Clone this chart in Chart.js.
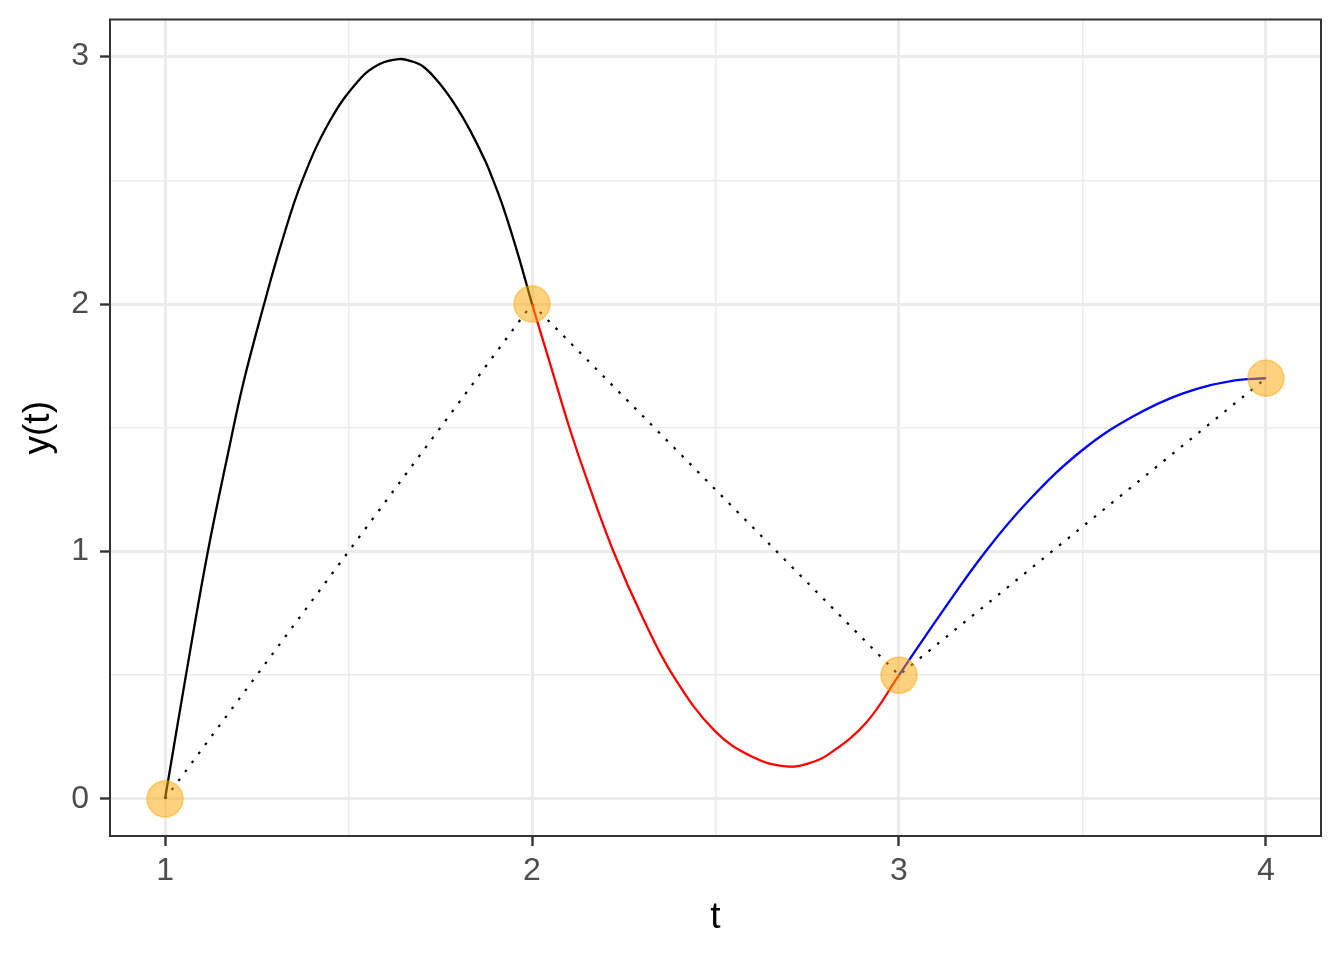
<!DOCTYPE html>
<html>
<head>
<meta charset="utf-8">
<script src="https://cdn.jsdelivr.net/npm/chart.js@4"></script>
<style>
  html, body { margin: 0; padding: 0; background: #ffffff; }
  #wrap { width: 1344px; height: 960px; }
</style>
</head>
<body>
<div id="wrap"><canvas id="splineChart"></canvas></div>
<script>
// knots (orange points, joined by the dotted line)
const knotT = [1, 2, 3, 4];
const knotY = [0, 2, 0.5, 1.7];

// spline pieces
const blackT = [1, 1.057, 1.116, 1.175, 1.214, 1.27, 1.317, 1.374, 1.451, 1.533, 1.585, 1.637, 1.67, 1.705, 1.751, 1.796, 1.832, 1.873, 1.893, 1.923, 1.961, 2];
const blackY = [0, 0.5, 0.995, 1.42, 1.685, 2.0, 2.245, 2.5, 2.745, 2.913, 2.97, 2.99, 2.982, 2.958, 2.886, 2.792, 2.70, 2.577, 2.505, 2.385, 2.205, 2.0];

const redT = [2, 2.048, 2.102, 2.15, 2.222, 2.304, 2.385, 2.498, 2.603, 2.693, 2.757, 2.811, 2.911, 3];
const redY = [2, 1.765, 1.5, 1.289, 1.0, 0.725, 0.497, 0.275, 0.168, 0.131, 0.145, 0.183, 0.309, 0.5];

const blueT = [3, 3.109, 3.236, 3.355, 3.5, 3.636, 3.772, 3.908, 4];
const blueY = [0.5, 0.738, 1.0, 1.208, 1.41, 1.544, 1.638, 1.689, 1.7];

// axis ticks: labelled majors and unlabelled minors
const xMajor = [1, 2, 3, 4];
const xMinor = [1.5, 2.5, 3.5];
const yMajor = [0, 1, 2, 3];
const yMinor = [0.5, 1.5, 2.5];

const pairs = (xs, ys) => xs.map((x, i) => ({ x: x, y: ys[i] }));
const isMajor = (v, majors) => majors.some(m => Math.abs(m - v) < 1e-9);
const FONT = 'Liberation Sans, Arial, sans-serif';

function gridFor(majors) {
    return {
        color: '#EBEBEB',
        lineWidth: ctx => isMajor(ctx.tick.value, majors) ? 3 : 1.5,
        drawTicks: true,
        tickLength: 10,
        tickColor: ctx => isMajor(ctx.tick.value, majors) ? '#333333' : 'rgba(0,0,0,0)',
        tickWidth: 2.4
    };
}

// no extra room for label overhang, the panel box is fixed
function noOverhang(s) {
    s.paddingTop = 0;
    s.paddingBottom = 0;
    s.paddingLeft = 0;
    s.paddingRight = 0;
}

// panel border like theme_bw
const panelBorder = {
    id: 'panelBorder',
    afterDraw(chart) {
        const { ctx, chartArea: a } = chart;
        ctx.save();
        ctx.strokeStyle = '#333333';
        ctx.lineWidth = 2;
        ctx.strokeRect(a.left, a.top, a.right - a.left, a.bottom - a.top);
        ctx.restore();
    }
};

const ctx = document.getElementById('splineChart').getContext('2d');

const lineStyle = color => ({
    borderColor: color,
    borderWidth: 2.3,
    pointRadius: 0,
    fill: false,
    tension: 0.4
});

new Chart(ctx, {
    type: 'line',
    data: {
        datasets: [
            {
                label: 'knots',
                data: pairs(knotT, knotY),
                showLine: false,
                pointRadius: 18,
                pointBackgroundColor: 'rgba(255,165,0,0.5)',
                pointBorderColor: 'rgba(255,165,0,0.5)',
                pointBorderWidth: 1.5
            },
            Object.assign({ label: 'piece 1', data: pairs(blackT, blackY) }, lineStyle('#000000')),
            Object.assign({ label: 'piece 2', data: pairs(redT, redY) }, lineStyle('#FF0000')),
            Object.assign({ label: 'piece 3', data: pairs(blueT, blueY) }, lineStyle('#0000FF')),
            {
                label: 'linear',
                data: pairs(knotT, knotY),
                borderColor: '#000000',
                borderWidth: 2.2,
                borderDash: [2.6, 8.6],
                pointRadius: 0,
                tension: 0,
                fill: false
            }
        ]
    },
    options: {
        responsive: true,
        maintainAspectRatio: false,
        devicePixelRatio: 1,
        animation: false,
        events: [],
        layout: { padding: { top: 18, right: 23, bottom: 0, left: 0 } },
        plugins: {
            legend: { display: false },
            tooltip: { enabled: false }
        },
        scales: {
            x: {
                type: 'linear',
                min: 0.85,
                max: 4.15,
                afterBuildTicks: s => { s.ticks = xMajor.concat(xMinor).sort((a, b) => a - b).map(v => ({ value: v })); },
                afterFit: s => { s.height = 124; noOverhang(s); },
                border: { display: false },
                grid: gridFor(xMajor),
                ticks: {
                    autoSkip: false,
                    maxRotation: 0,
                    padding: 6,
                    color: '#4D4D4D',
                    font: { family: FONT, size: 32 },
                    callback: v => isMajor(v, xMajor) ? String(v) : ''
                },
                title: {
                    display: true,
                    text: 't',
                    color: '#000000',
                    font: { family: FONT, size: 37 },
                    padding: { top: 0, bottom: 20 }
                }
            },
            y: {
                type: 'linear',
                min: -0.15,
                max: 3.15,
                afterBuildTicks: s => { s.ticks = yMajor.concat(yMinor).sort((a, b) => a - b).map(v => ({ value: v })); },
                afterFit: s => { s.width = 110; noOverhang(s); },
                border: { display: false },
                grid: gridFor(yMajor),
                ticks: {
                    autoSkip: false,
                    padding: 11,
                    color: '#4D4D4D',
                    font: { family: FONT, size: 32 },
                    callback: v => isMajor(v, yMajor) ? String(v) : ''
                },
                title: {
                    display: true,
                    text: 'y(t)',
                    color: '#000000',
                    font: { family: FONT, size: 37 },
                    padding: { top: 17, bottom: 0 }
                }
            }
        }
    },
    plugins: [panelBorder]
});
</script>
</body>
</html>
